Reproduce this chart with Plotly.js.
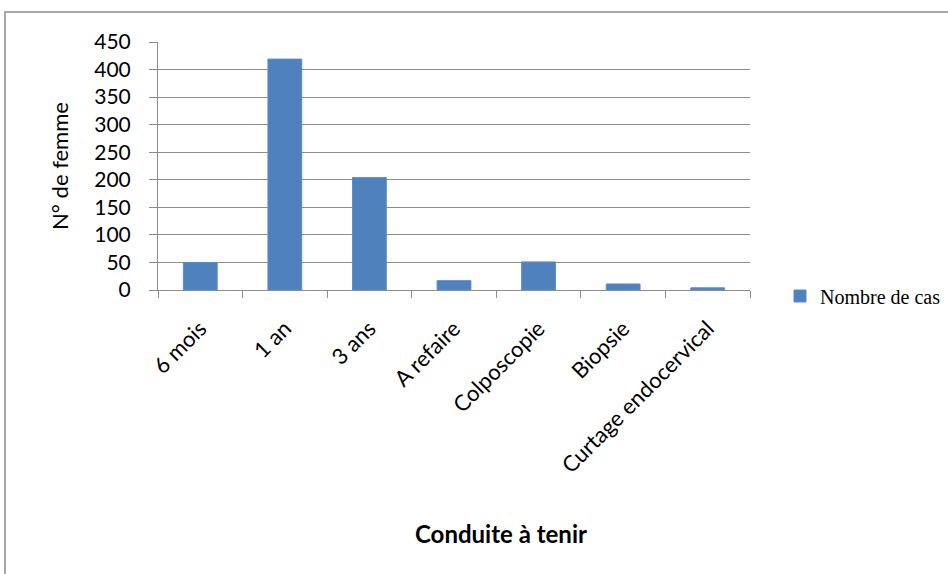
<!DOCTYPE html>
<html>
<head>
<meta charset="utf-8">
<script src="https://cdn.plot.ly/plotly-3.0.1.min.js"></script>
<style>
  html, body { margin: 0; padding: 0; background: #fff; }
  #chart { width: 948px; height: 574px; }
</style>
</head>
<body>
<div id="chart"></div>
<script>
// Conduite à tenir : nombre de femmes par type de suivi
const categories = ["6 mois", "1 an", "3 ans", "A refaire", "Colposcopie", "Biopsie", "Curtage endocervical"];
const nombreDeCas = [50, 419, 204, 17, 51, 11, 4];
const yTicks = [0, 50, 100, 150, 200, 250, 300, 350, 400, 450];

const W = 948, H = 574;
const margin = { l: 158, r: 198, t: 42, b: 284 };
const plotW = W - margin.l - margin.r;
const plotH = H - margin.t - margin.b;
// pixel -> paper helpers for the frame and x title
const px = x => (x - margin.l) / plotW;
const py = y => (H - margin.b - y) / plotH;

const axisGrey = "#8c8c8c";
const sans = "Lato, 'DejaVu Sans', sans-serif";

const trace = {
  type: "bar",
  x: categories,
  y: nombreDeCas,
  name: "Nombre de cas",
  marker: { color: "#4F81BD", line: { color: "#5B8ED0", width: 1 } },
  width: 0.4,
  showlegend: true,
  hoverinfo: "x+y"
};

const layout = {
  width: W,
  height: H,
  margin: margin,
  paper_bgcolor: "#ffffff",
  plot_bgcolor: "#ffffff",
  font: { family: sans, color: "#000" },
  showlegend: true,
  legend: {
    // placed against the whole figure so it does not squeeze the plot area
    xref: "container", yref: "container",
    x: 780 / W, y: 1 - 296 / H, xanchor: "left", yanchor: "middle",
    font: { family: "'Liberation Serif', 'Times New Roman', serif", size: 20, color: "#000" },
    bgcolor: "rgba(0,0,0,0)",
    borderwidth: 0
  },
  xaxis: {
    type: "category",
    tickangle: -45,
    tickson: "boundaries",
    ticks: "outside",
    ticklen: 7,
    tickcolor: axisGrey,
    ticklabelstandoff: 16,
    showline: true,
    linecolor: axisGrey,
    linewidth: 1,
    showgrid: false,
    tickfont: { size: 22, family: sans, color: "#000" },
    fixedrange: true
  },
  yaxis: {
    range: [0, 450],
    tickvals: yTicks,
    ticks: "outside",
    ticklen: 8,
    tickcolor: axisGrey,
    ticklabelstandoff: 14,
    showline: true,
    linecolor: axisGrey,
    linewidth: 1,
    showgrid: true,
    gridcolor: axisGrey,
    gridwidth: 1,
    zeroline: false,
    tickfont: { size: 21, family: sans, color: "#000" },
    title: { text: "N° de femme", font: { size: 22, family: sans }, standoff: 19 },
    fixedrange: true
  },
  annotations: [{
    text: "<b>Conduite à tenir</b>",
    xref: "paper", yref: "paper",
    x: px(501), y: py(533),
    xanchor: "center", yanchor: "middle",
    showarrow: false,
    font: { size: 24, family: sans, color: "#000" }
  }],
  shapes: [{
    type: "rect",
    xref: "paper", yref: "paper",
    x0: px(5), x1: px(960),
    y0: py(585), y1: py(12),
    line: { color: axisGrey, width: 1.5 },
    fillcolor: "rgba(0,0,0,0)",
    layer: "below"
  }]
};

Plotly.newPlot("chart", [trace], layout, { displayModeBar: false, staticPlot: true });
</script>
</body>
</html>
